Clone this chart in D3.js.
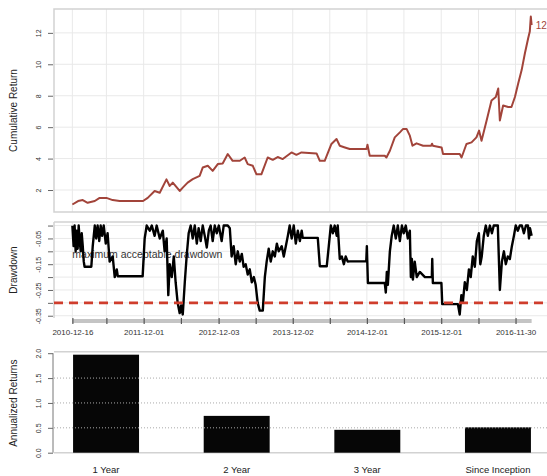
<!DOCTYPE html>
<html><head><meta charset="utf-8">
<script src="https://cdn.jsdelivr.net/npm/d3@7/dist/d3.min.js"></script>
<style>
body{margin:0;background:#fff}
svg{display:block;font-family:"Liberation Sans",Arial,Helvetica,sans-serif}
</style>
</head><body>
<svg id="c" width="547" height="476"></svg>
<script>
// ---------------- data ----------------
const startDate = "2010-12-16";           // day 0 of the series
// cumulative return, days since startDate
const cumDays = [0,28,51,75,110,134,167,198,232,347,370,404,429,462,478,493,527,542,566,591,625,640,665,689,714,738,763,787,822,846,861,886,904,928,959,984,1008,1033,1076,1100,1125,1199,1215,1239,1272,1297,1313,1338,1362,1444,1449,1460,1534,1542,1559,1583,1608,1624,1641,1657,1670,1690,1722,1762,1766,1770,1813,1820,1902,1911,1935,1960,1984,1997,2009,2034,2058,2079,2091,2099,2115,2140,2156,2173,2189,2206,2222,2238,2246,2251,2255];
const cumValues = [1.08,1.3,1.36,1.19,1.3,1.5,1.5,1.36,1.3,1.3,1.5,1.94,1.83,2.68,2.26,2.47,1.94,2.15,2.47,2.69,2.9,3.43,3.54,3.22,3.65,3.69,4.29,3.86,3.86,4.07,3.65,3.54,3.0,3.0,4.07,3.92,4.1,3.97,4.39,4.24,4.39,4.33,3.86,3.86,4.93,5.25,4.82,4.71,4.61,4.61,4.88,4.18,4.18,4.07,4.5,5.35,5.67,5.89,5.89,5.46,4.82,4.97,4.82,4.82,4.95,4.82,4.71,4.29,4.29,4.07,4.93,5.03,5.35,5.78,5.14,6.42,7.7,7.92,8.46,6.42,7.38,7.28,7.28,7.92,8.78,9.63,10.7,11.66,12.08,13.04,12.5];
const lastLabel = "12.5";
// drawdown, days since startDate
const ddDays = [0,6,11,16,21,26,31,36,41,46,51,56,60,93,100,110,117,124,132,139,146,154,164,173,183,198,208,218,223,345,355,365,380,390,404,414,429,444,453,463,471,478,488,498,507,517,527,534,542,552,561,571,581,591,601,611,620,630,640,650,660,670,679,689,699,709,719,733,743,763,773,782,792,802,812,822,832,841,851,861,871,881,891,900,910,920,935,945,954,964,974,984,994,1004,1013,1028,1038,1048,1058,1067,1077,1087,1097,1107,1117,1126,1131,1205,1215,1249,1259,1269,1279,1288,1298,1303,1313,1323,1333,1342,1352,1362,1443,1446,1448,1451,1534,1539,1544,1549,1559,1568,1578,1588,1598,1608,1618,1627,1637,1647,1657,1662,1667,1672,1681,1691,1706,1731,1755,1765,1767,1770,1812,1816,1893,1902,1910,1917,1927,1937,1947,1956,1966,1976,1986,1996,2003,2010,2020,2030,2040,2050,2060,2069,2079,2089,2099,2109,2119,2128,2138,2148,2158,2168,2177,2187,2197,2207,2217,2227,2237,2242,2247,2255];
const ddValues = [0,-0.08,0,-0.1,-0.02,-0.09,0,-0.06,-0.1,-0.03,-0.08,-0.14,-0.16,-0.16,-0.08,0,-0.05,0,-0.06,0,-0.04,0,-0.07,-0.03,-0.14,-0.12,-0.2,-0.17,-0.197,-0.197,-0.05,0,-0.02,0,-0.04,0,-0.05,-0.02,-0.1,-0.05,-0.27,-0.15,-0.2,-0.12,-0.22,-0.3,-0.34,-0.31,-0.345,-0.22,-0.12,-0.03,0,-0.05,0,-0.07,-0.01,-0.06,0,-0.04,-0.085,-0.02,0,-0.06,0,-0.03,0,-0.06,0,0,-0.01,-0.12,-0.08,-0.15,-0.1,-0.14,-0.11,-0.16,-0.15,-0.19,-0.17,-0.22,-0.2,-0.23,-0.3,-0.33,-0.33,-0.2,-0.14,-0.09,-0.14,-0.1,-0.12,-0.07,-0.1,-0.08,-0.12,-0.08,-0.04,0,-0.05,0,-0.07,-0.02,-0.06,-0.02,-0.048,-0.048,-0.158,-0.158,-0.08,0,-0.03,0,-0.04,0,-0.13,-0.12,-0.15,-0.12,-0.14,-0.139,-0.139,-0.08,-0.139,-0.223,-0.223,-0.26,-0.18,-0.23,-0.1,-0.04,0,-0.05,0,-0.06,0,-0.03,0,-0.05,-0.02,-0.2,-0.13,-0.21,-0.14,-0.2,-0.18,-0.2,-0.2,-0.2,-0.13,-0.223,-0.223,-0.305,-0.305,-0.345,-0.27,-0.3,-0.22,-0.25,-0.17,-0.2,-0.12,-0.16,-0.06,-0.03,-0.15,-0.12,-0.04,0,-0.04,0,-0.03,0,0,0,-0.25,-0.14,-0.1,-0.15,-0.12,-0.13,-0.08,-0.04,0,-0.02,0,0,-0.03,0,0,-0.05,-0.01,-0.04];
const maxAcceptableDD = -0.3;
const maxDDText = "maximum acceptable drawdown";

const cumTicks = [2,4,6,8,10,12];
const ddTicks = [0,-0.05,-0.1,-0.15,-0.2,-0.25,-0.3,-0.35];
const ddTickLabels = ["","-0.05","","-0.15","","-0.25","","-0.35"];
const dateTicks = ["2010-12-16","2011-06-01","2011-12-01","2012-06-01","2012-12-03","2013-06-03","2013-12-02","2014-06-02","2014-12-01","2015-06-01","2015-12-01","2016-06-01","2016-11-30"];
const dateTickLabels = ["2010-12-16","","2011-12-01","","2012-12-03","","2013-12-02","","2014-12-01","","2015-12-01","","2016-11-30"];

const barCategories = ["1 Year","2 Year","3 Year","Since Inception"];
const barValues = [1.97,0.74,0.46,0.51];
const barTicks = [0,0.5,1,1.5,2];
const barTickLabels = ["0.0","0.5","1.0","1.5","2.0"];

// ---------------- drawing ----------------
const svg = d3.select("#c");
const parse = d3.utcParse("%Y-%m-%d");
const t0 = parse(startDate);
const dayToDate = d => new Date(t0.getTime() + d*864e5);

const cum = d3.zip(cumDays, cumValues).map(([d,v]) => ({date: dayToDate(d), v}));
const dd = d3.zip(ddDays, ddValues).map(([d,v]) => ({date: dayToDate(d), v}));

const L = 54, R = 550;
const P1 = {top: 9, bottom: 212};
const P2 = {top: 222, bottom: 318};
const P3 = {top: 351.7, bottom: 452.7};

// x time scale with R-style 4% padding
const ext = d3.extent(cum, d => d.date);
const span = ext[1] - ext[0];
const x = d3.scaleUtc()
  .domain([new Date(+ext[0] - span*0.04), new Date(+ext[1] + span*0.04)])
  .range([L, R]);

const gridC = "#e9e9e9", boxC = "#d2d2d2", axisTxt = "#333";

// ---------- Panel 1: cumulative return ----------
const yExt1 = d3.extent(cum, d => d.v);
const r1 = yExt1[1] - yExt1[0];
const y1 = d3.scaleLinear().domain([yExt1[0] - r1*0.04, yExt1[1] + r1*0.04]).range([P1.bottom, P1.top]);

const g1 = svg.append("g");
g1.selectAll("line.vg").data(dateTicks).join("line")
  .attr("x1", d => x(parse(d))).attr("x2", d => x(parse(d)))
  .attr("y1", P1.top).attr("y2", P1.bottom).attr("stroke", gridC);
g1.selectAll("line.hg").data(cumTicks).join("line")
  .attr("x1", L).attr("x2", R).attr("y1", d => y1(d)).attr("y2", d => y1(d)).attr("stroke", gridC);
g1.append("rect").attr("x", L).attr("y", P1.top).attr("width", R-L).attr("height", P1.bottom-P1.top)
  .attr("fill", "none").attr("stroke", boxC).attr("stroke-width", 1.5);

function leftAxis(g, scale, ticks, labels, fs) {
  const ax = g.append("g").attr("transform", `translate(${L},0)`)
    .call(d3.axisLeft(scale).tickValues(ticks).tickSize(5).tickFormat((d,i) => labels[i]));
  ax.select(".domain").remove();
  ax.selectAll(".tick line").attr("stroke", "#666").attr("x2", -6).attr("x1", -1);
  ax.selectAll(".tick text").attr("x", null).attr("dy", "0.35em")
    .attr("transform", "translate(-15,0) rotate(-90)")
    .attr("text-anchor", "middle").attr("fill", axisTxt).style("font-size", fs + "px")
    .style("font-family", '"Liberation Sans",Arial,sans-serif');
  return ax;
}
leftAxis(g1, y1, cumTicks, cumTicks.map(String), 7);

g1.append("path").datum(cum)
  .attr("d", d3.line().x(d => x(d.date)).y(d => y1(d.v)))
  .attr("fill", "none").attr("stroke", "#a2443a").attr("stroke-width", 2).attr("stroke-linejoin", "round");
const last = cum[cum.length-1];
g1.append("text").attr("x", x(last.date) + 4).attr("y", y1(last.v)).attr("dy", "0.35em")
  .attr("fill", "#a2443a").style("font-size", "10px").text(lastLabel);

function yTitle(text, cy) {
  svg.append("text").attr("transform", `translate(13.5,${cy}) rotate(-90)`)
    .attr("text-anchor", "middle").attr("dy", "0.35em").attr("fill", "#222")
    .style("font-size", "10px").text(text);
}
yTitle("Cumulative Return", (P1.top + P1.bottom)/2);

// ---------- Panel 2: drawdown ----------
const ddMin = d3.min(dd, d => d.v), ddMax = d3.max(dd, d => d.v);
const r2 = ddMax - ddMin;
const y2 = d3.scaleLinear().domain([ddMin - r2*0.04, ddMax + r2*0.04]).range([P2.bottom, P2.top]);

const g2 = svg.append("g");
g2.selectAll("line.vg").data(dateTicks).join("line")
  .attr("x1", d => x(parse(d))).attr("x2", d => x(parse(d)))
  .attr("y1", P2.top).attr("y2", P2.bottom).attr("stroke", gridC);
g2.selectAll("line.hg").data(ddTicks).join("line")
  .attr("x1", L).attr("x2", R).attr("y1", d => y2(d)).attr("y2", d => y2(d)).attr("stroke", gridC);
g2.append("line").attr("x1", L).attr("x2", R).attr("y1", P2.top).attr("y2", P2.top).attr("stroke", boxC).attr("stroke-width", 1.5);
g2.append("line").attr("x1", L).attr("x2", L).attr("y1", P2.top).attr("y2", P2.bottom).attr("stroke", boxC).attr("stroke-width", 1.5);
leftAxis(g2, y2, ddTicks, ddTickLabels, 7);

g2.append("text").attr("x", x(dd[0].date)).attr("y", y2(-0.11)).attr("dy", "0.35em")
  .attr("fill", "#333").style("font-size", "10.5px").text(maxDDText);

g2.append("path").datum(dd)
  .attr("d", d3.line().x(d => x(d.date)).y(d => y2(d.v)))
  .attr("fill", "none").attr("stroke", "#000").attr("stroke-width", 2.4).attr("stroke-linejoin", "round");

g2.append("line").attr("x1", L).attr("x2", R)
  .attr("y1", y2(maxAcceptableDD)).attr("y2", y2(maxAcceptableDD))
  .attr("stroke", "#cf3d2c").attr("stroke-width", 2.6).attr("stroke-dasharray", "9,6");

// x axis (grey bar + ticks)
g2.append("line").attr("x1", x(dd[0].date)).attr("x2", x(dd[dd.length-1].date))
  .attr("y1", P2.bottom + 3).attr("y2", P2.bottom + 3).attr("stroke", "#c4c4c4").attr("stroke-width", 4);
const xa = g2.append("g").attr("transform", `translate(0,${P2.bottom})`)
  .call(d3.axisBottom(x).tickValues(dateTicks.map(parse)).tickSize(6).tickFormat((d,i) => dateTickLabels[i]));
xa.select(".domain").remove();
xa.selectAll(".tick line").attr("stroke", "#555").attr("stroke-width", 1.2);
xa.selectAll(".tick text").attr("y", 11).attr("fill", axisTxt).style("font-size", "8px")
  .style("font-family", '"Liberation Sans",Arial,sans-serif');

yTitle("Drawdown", 270);

// ---------- Panel 3: annualized returns bars ----------
const xb = d3.scaleBand().domain(barCategories).range([L, R]).paddingInner(0.495).paddingOuter(0.146);
const yb = d3.scaleLinear().domain([0, 2.03]).range([P3.bottom, P3.top]);
const g3 = svg.append("g");
g3.append("line").attr("x1", L).attr("x2", R).attr("y1", P3.top).attr("y2", P3.top).attr("stroke", boxC).attr("stroke-width", 1.5);
g3.append("line").attr("x1", L).attr("x2", R).attr("y1", P3.bottom).attr("y2", P3.bottom).attr("stroke", boxC).attr("stroke-width", 1.5);
g3.selectAll("rect.bar").data(barCategories).join("rect")
  .attr("x", d => xb(d)).attr("width", xb.bandwidth())
  .attr("y", (d,i) => yb(barValues[i])).attr("height", (d,i) => yb(0) - yb(barValues[i]))
  .attr("fill", "#060606");
g3.selectAll("line.bg").data(barTicks.slice(1, 4)).join("line")
  .attr("x1", L).attr("x2", R).attr("y1", d => yb(d)).attr("y2", d => yb(d))
  .attr("stroke", "#aaa").attr("stroke-width", 1).attr("stroke-dasharray", "1,2");
const ba = leftAxis(g3, yb, barTicks, barTickLabels, 7);
g3.append("line").attr("x1", L-1).attr("x2", L-1).attr("y1", yb(0)).attr("y2", yb(2)).attr("stroke", "#777");
g3.selectAll("text.cat").data(barCategories).join("text")
  .attr("x", d => xb(d) + xb.bandwidth()/2).attr("y", 473)
  .attr("text-anchor", "middle").attr("fill", "#222").style("font-size", "9.5px").text(d => d);

yTitle("Annualized Returns", (P3.top + P3.bottom)/2 + 1);
</script>
</body></html>
